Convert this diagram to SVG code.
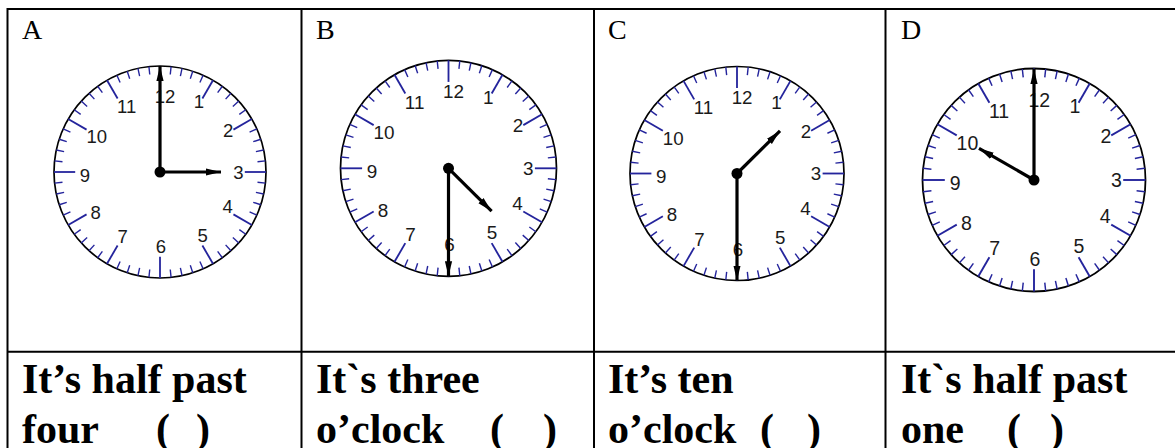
<svg xmlns="http://www.w3.org/2000/svg" xmlns:xlink="http://www.w3.org/1999/xlink" width="1175" height="448" viewBox="0 0 1175 448">
<style>
.grid{stroke:#000;stroke-width:2;fill:none}
.lbl{font-family:"Liberation Serif","Times New Roman",serif;font-size:28px;fill:#000}
.ans{font-family:"Liberation Serif","Times New Roman",serif;font-size:42px;font-weight:bold;fill:#000}
.num{font-family:"Liberation Sans",Arial,sans-serif;font-size:17.5px;fill:#1a1a1a;text-anchor:middle}
.mt{stroke:#24249c;stroke-width:1.3}
.ht{stroke:#24249c;stroke-width:1.7}
.hand{stroke:#000;stroke-width:3.2;fill:none;marker-end:url(#arr)}
</style>
<defs>
<marker id="arr" markerUnits="userSpaceOnUse" markerWidth="16" markerHeight="8" refX="15" refY="4" orient="auto">
<path d="M0,0.4 L15,4 L0,7.6 z" fill="#000"/>
</marker>
<line id="m" class="mt" x1="0" y1="-100" x2="0" y2="-92.5"/>
<line id="h" class="ht" x1="0" y1="-100" x2="0" y2="-80"/>
<g id="face">
<circle r="100" fill="#fff" stroke="#000" stroke-width="1.6"/>
<use xlink:href="#h"/><use xlink:href="#h" transform="rotate(30)"/><use xlink:href="#h" transform="rotate(60)"/><use xlink:href="#h" transform="rotate(90)"/><use xlink:href="#h" transform="rotate(120)"/><use xlink:href="#h" transform="rotate(150)"/><use xlink:href="#h" transform="rotate(180)"/><use xlink:href="#h" transform="rotate(210)"/><use xlink:href="#h" transform="rotate(240)"/><use xlink:href="#h" transform="rotate(270)"/><use xlink:href="#h" transform="rotate(300)"/><use xlink:href="#h" transform="rotate(330)"/>
<use xlink:href="#m" transform="rotate(6)"/><use xlink:href="#m" transform="rotate(12)"/><use xlink:href="#m" transform="rotate(18)"/><use xlink:href="#m" transform="rotate(24)"/>
<use xlink:href="#m" transform="rotate(36)"/><use xlink:href="#m" transform="rotate(42)"/><use xlink:href="#m" transform="rotate(48)"/><use xlink:href="#m" transform="rotate(54)"/>
<use xlink:href="#m" transform="rotate(66)"/><use xlink:href="#m" transform="rotate(72)"/><use xlink:href="#m" transform="rotate(78)"/><use xlink:href="#m" transform="rotate(84)"/>
<use xlink:href="#m" transform="rotate(96)"/><use xlink:href="#m" transform="rotate(102)"/><use xlink:href="#m" transform="rotate(108)"/><use xlink:href="#m" transform="rotate(114)"/>
<use xlink:href="#m" transform="rotate(126)"/><use xlink:href="#m" transform="rotate(132)"/><use xlink:href="#m" transform="rotate(138)"/><use xlink:href="#m" transform="rotate(144)"/>
<use xlink:href="#m" transform="rotate(156)"/><use xlink:href="#m" transform="rotate(162)"/><use xlink:href="#m" transform="rotate(168)"/><use xlink:href="#m" transform="rotate(174)"/>
<use xlink:href="#m" transform="rotate(186)"/><use xlink:href="#m" transform="rotate(192)"/><use xlink:href="#m" transform="rotate(198)"/><use xlink:href="#m" transform="rotate(204)"/>
<use xlink:href="#m" transform="rotate(216)"/><use xlink:href="#m" transform="rotate(222)"/><use xlink:href="#m" transform="rotate(228)"/><use xlink:href="#m" transform="rotate(234)"/>
<use xlink:href="#m" transform="rotate(246)"/><use xlink:href="#m" transform="rotate(252)"/><use xlink:href="#m" transform="rotate(258)"/><use xlink:href="#m" transform="rotate(264)"/>
<use xlink:href="#m" transform="rotate(276)"/><use xlink:href="#m" transform="rotate(282)"/><use xlink:href="#m" transform="rotate(288)"/><use xlink:href="#m" transform="rotate(294)"/>
<use xlink:href="#m" transform="rotate(306)"/><use xlink:href="#m" transform="rotate(312)"/><use xlink:href="#m" transform="rotate(318)"/><use xlink:href="#m" transform="rotate(324)"/>
<use xlink:href="#m" transform="rotate(336)"/><use xlink:href="#m" transform="rotate(342)"/><use xlink:href="#m" transform="rotate(348)"/><use xlink:href="#m" transform="rotate(354)"/>
<text class="num" x="4.7" y="-65.4">12</text>
<text class="num" x="36.8" y="-60">1</text>
<text class="num" x="64.4" y="-33.3">2</text>
<text class="num" x="73.9" y="6.3">3</text>
<text class="num" x="63.9" y="39">4</text>
<text class="num" x="40.3" y="65.7">5</text>
<text class="num" x="0.9" y="76.8">6</text>
<text class="num" x="-35.2" y="67.3">7</text>
<text class="num" x="-60.7" y="44.7">8</text>
<text class="num" x="-70.8" y="9.1">9</text>
<text class="num" x="-59.7" y="-27">10</text>
<text class="num" x="-31.4" y="-55.3">11</text>
</g>
</defs>
<rect width="1175" height="448" fill="#fff"/>
<g id="table">
<path class="grid" d="M6.5,9 H1175 M7.5,8 V448 M301.5,9 V448 M594,9 V448 M885.5,9 V448 M7.5,351.7 H1175"/>
</g>
<g id="cellA">
<text class="lbl" x="22" y="39">A</text>
<use xlink:href="#face" transform="translate(160,172) scale(1.06)"/>
<text class="ans" x="22" y="393">It’s half past</text>
<text class="ans" y="443"><tspan x="22">four</tspan><tspan x="156">(</tspan><tspan x="196">)</tspan></text>
</g>
<g id="cellB">
<text class="lbl" x="316" y="38.5">B</text>
<use xlink:href="#face" transform="translate(448.5,168.3) scale(1.08)"/>
<text class="ans" x="316" y="393">It`s three</text>
<text class="ans" y="443"><tspan x="316">o’clock</tspan><tspan x="490">(</tspan><tspan x="543">)</tspan></text>
</g>
<g id="cellC">
<text class="lbl" x="608" y="39">C</text>
<use xlink:href="#face" transform="translate(737,173.5) scale(1.07)"/>
<text class="ans" x="608" y="393">It’s ten</text>
<text class="ans" y="443"><tspan x="608">o’clock</tspan><tspan x="760">(</tspan><tspan x="807">)</tspan></text>
</g>
<g id="cellD">
<text class="lbl" x="901" y="39">D</text>
<use xlink:href="#face" transform="translate(1034,180) scale(1.115)"/>
<text class="ans" x="901" y="393">It`s half past</text>
<text class="ans" y="443"><tspan x="901">one</tspan><tspan x="1007">(</tspan><tspan x="1050">)</tspan></text>
</g>
<g id="hands">
<line class="hand" x1="160" y1="172" x2="160" y2="66"/>
<line class="hand" x1="160" y1="172" x2="221" y2="172"/>
<circle cx="160" cy="172" r="5.5"/>
<line class="hand" x1="448.5" y1="168.3" x2="448.5" y2="276.3"/>
<line class="hand" x1="448.5" y1="168.3" x2="491.6" y2="211.2"/>
<circle cx="448.5" cy="168.3" r="5.5"/>
<line class="hand" x1="737" y1="173.5" x2="737" y2="280.5"/>
<line class="hand" x1="737" y1="173.5" x2="780" y2="130.8"/>
<circle cx="737" cy="173.5" r="5.5"/>
<line class="hand" x1="1034" y1="180" x2="1034" y2="69"/>
<line class="hand" x1="1034" y1="180" x2="979" y2="148.3"/>
<circle cx="1034" cy="180" r="5.5"/>
</g>
</svg>
